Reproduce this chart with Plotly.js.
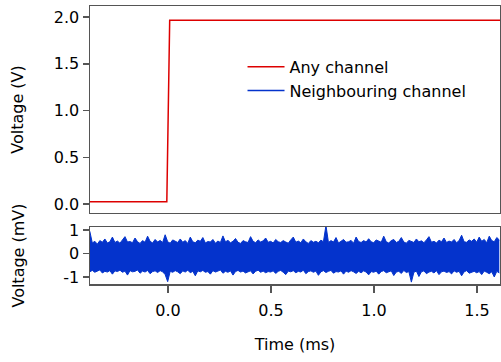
<!DOCTYPE html>
<html>
<head>
<meta charset="utf-8">
<script src="https://cdn.plot.ly/plotly-3.0.1.min.js"></script>
<style>html,body{margin:0;padding:0;background:#fff;}#chart{width:501px;height:362px;}</style>
</head>
<body>
<div id="chart"></div>
<script>
// Step signal on "any channel" (V)
const stepTime = [-0.38, -0.006, 0.008, 1.615];
const stepVolt = [0.025, 0.025, 1.965, 1.965];

// Neighbouring channel noise envelope (mV), sampled uniformly in time
const noiseStart = -0.38;   // ms
const noiseStep = 0.0122;   // ms
const noiseUpper = [
  0.95,0.45,0.52,0.40,0.55,0.48,0.62,0.45,0.50,0.70,0.47,0.53,0.44,0.58,0.72,0.49,0.51,0.46,0.66,0.50,0.43,0.55,0.48,0.74,0.52,0.45,0.60,0.49,0.56,0.47,0.80,
  0.50,0.44,0.58,0.52,0.47,0.62,0.48,0.55,0.43,0.70,0.50,0.46,0.57,0.52,0.68,0.45,0.51,0.49,0.60,0.44,0.53,0.47,0.75,0.50,0.56,0.46,0.52,0.64,0.48,0.43,0.55,0.50,0.47,0.72,0.52,0.46,0.58,0.49,0.54,0.66,0.48,
  0.52,0.45,0.60,0.50,0.47,0.55,0.49,0.44,0.58,0.70,0.48,0.53,0.46,0.62,0.50,0.43,0.55,0.48,0.52,0.46,0.57,0.50,1.20,0.47,0.55,0.49,0.68,0.45,0.52,0.60,0.48,0.50,0.56,0.44,0.70,0.51,0.47,0.55,0.49,0.63,0.50,
  0.46,0.58,0.52,0.48,0.74,0.50,0.45,0.55,0.60,0.47,0.52,0.68,0.49,0.44,0.56,0.51,0.47,0.62,0.50,0.54,0.46,0.58,0.72,0.48,0.52,0.45,0.57,0.50,0.66,0.47,0.53,0.49,0.60,0.46,0.55,0.78,0.50,0.48,0.58,0.52,0.62,
  0.48,0.70,0.52,0.60,0.46,0.74,0.55,0.50,0.68,0.58
];
const noiseLower = [
  -0.78,-0.72,-0.80,-0.75,-0.70,-0.83,-0.76,-0.79,-0.73,-0.88,-0.74,-0.77,-0.71,-0.80,-0.75,-0.92,-0.73,-0.78,-0.76,-0.70,-0.84,-0.75,-0.79,-0.72,-0.86,-0.77,-0.74,-0.81,-0.73,-0.78,-0.90,
  -1.20,-0.76,-0.80,-0.73,-0.78,-0.86,-0.74,-0.79,-0.71,-0.82,-0.76,-0.95,-0.74,-0.78,-0.72,-0.80,-0.77,-0.88,-0.73,-0.79,-0.75,-0.70,-0.84,-0.76,-0.80,-0.74,-0.92,-0.77,-0.72,-0.79,-0.75,-0.83,-0.78,-0.74,-0.87,-0.76,-0.71,-0.80,-0.75,-0.82,-0.77,
  -0.79,-0.74,-0.85,-0.76,-0.72,-0.80,-0.90,-0.75,-0.78,-0.73,-0.82,-0.76,-0.79,-0.71,-0.86,-0.77,-0.74,-0.80,-0.75,-0.93,-0.78,-0.73,-0.81,-0.76,-0.72,-0.84,-0.77,-0.79,-0.74,-0.88,-0.75,-0.80,-0.73,-0.78,-0.85,-0.76,-0.82,-0.74,-0.79,-0.91,-0.77,
  -0.80,-0.75,-0.88,-0.77,-0.73,-0.82,-0.78,-0.74,-0.94,-0.79,-0.76,-0.85,-0.72,-0.81,-0.77,-1.22,-0.80,-0.75,-0.98,-0.78,-0.74,-0.86,-0.79,-0.76,-0.83,-0.73,-0.90,-0.78,-0.75,-0.81,-0.77,-0.87,-0.74,-0.80,-0.76,-0.95,-0.78,-0.73,-0.84,-0.79,-0.76,
  -0.82,-0.77,-0.90,-0.75,-0.80,-0.86,-0.78,-1.00,-0.76,-0.83
];

const seriesNames = ['Any channel', 'Neighbouring channel'];
const xTicks = [0.0, 0.5, 1.0, 1.5];
const xTickText = ['0.0', '0.5', '1.0', '1.5'];
const yTopTicks = [0.0, 0.5, 1.0, 1.5, 2.0];
const yTopTickText = ['0.0', '0.5', '1.0', '1.5', '2.0'];
const yBotTicks = [-1, 0, 1];
const yBotTickText = ['-1', '0', '1'];

const RED = '#dd0000';
const BLUE = '#0433cc';
const AX = '#555555';
const FONT = 'DejaVu Sans, Verdana, sans-serif';

const traces = [
  {
    x: stepTime, y: stepVolt, xaxis: 'x2', yaxis: 'y2',
    mode: 'lines', line: {color: RED, width: 1.5},
    name: seriesNames[0], showlegend: true
  },
  {
    x: [null], y: [null], xaxis: 'x2', yaxis: 'y2',
    mode: 'lines', line: {color: BLUE, width: 1.5},
    name: seriesNames[1], showlegend: true
  },
  {
    x0: noiseStart, dx: noiseStep, y: noiseLower, xaxis: 'x', yaxis: 'y',
    mode: 'lines', line: {color: BLUE, width: 1},
    showlegend: false, hoverinfo: 'skip'
  },
  {
    x0: noiseStart, dx: noiseStep, y: noiseUpper, xaxis: 'x', yaxis: 'y',
    mode: 'lines', line: {color: BLUE, width: 1},
    fill: 'tonexty', fillcolor: BLUE,
    showlegend: false, hoverinfo: 'skip'
  }
];

const commonAxis = {
  showgrid: false, zeroline: false, showline: true, mirror: true,
  linecolor: AX, linewidth: 1.5, ticks: 'outside', tickcolor: AX, tickwidth: 1.5,
  tickfont: {family: FONT, size: 16, color: '#000'}
};

const layout = {
  width: 501, height: 362,
  margin: {l: 90, r: 1, t: 6, b: 78},
  paper_bgcolor: '#fff', plot_bgcolor: '#fff',
  font: {family: FONT, size: 16, color: '#000'},
  showlegend: true,
  legend: {
    x: 0.372, y: 0.842, xanchor: 'left', yanchor: 'top',
    traceorder: 'normal',
    bgcolor: 'rgba(0,0,0,0)', borderwidth: 0,
    font: {family: FONT, size: 16, color: '#000'},
    tracegroupgap: 0, itemwidth: 37
  },
  xaxis: Object.assign({}, commonAxis, {
    range: [-0.379, 1.612], anchor: 'y',
    tickvals: xTicks, ticktext: xTickText, ticklen: 7, ticklabelstandoff: 4,
    title: {text: 'Time (ms)', font: {family: FONT, size: 16}, standoff: 20}
  }),
  xaxis2: Object.assign({}, commonAxis, {
    range: [-0.379, 1.612], anchor: 'y2', matches: 'x',
    showticklabels: false, ticks: ''
  }),
  yaxis: Object.assign({}, commonAxis, {
    domain: [0, 0.205], range: [-1.3, 1.13], anchor: 'x',
    tickvals: yBotTicks, ticktext: yBotTickText, ticklen: 6,
    title: {text: 'Voltage (mV)', font: {family: FONT, size: 16}, standoff: 34}
  }),
  yaxis2: Object.assign({}, commonAxis, {
    domain: [0.2554, 1], range: [-0.096, 2.118], anchor: 'x2',
    tickvals: yTopTicks, ticktext: yTopTickText, ticklen: 6,
    title: {text: 'Voltage (V)', font: {family: FONT, size: 16}, standoff: 26}
  })
};

Plotly.newPlot('chart', traces, layout, {displayModeBar: false, staticPlot: true});
</script>
</body>
</html>
